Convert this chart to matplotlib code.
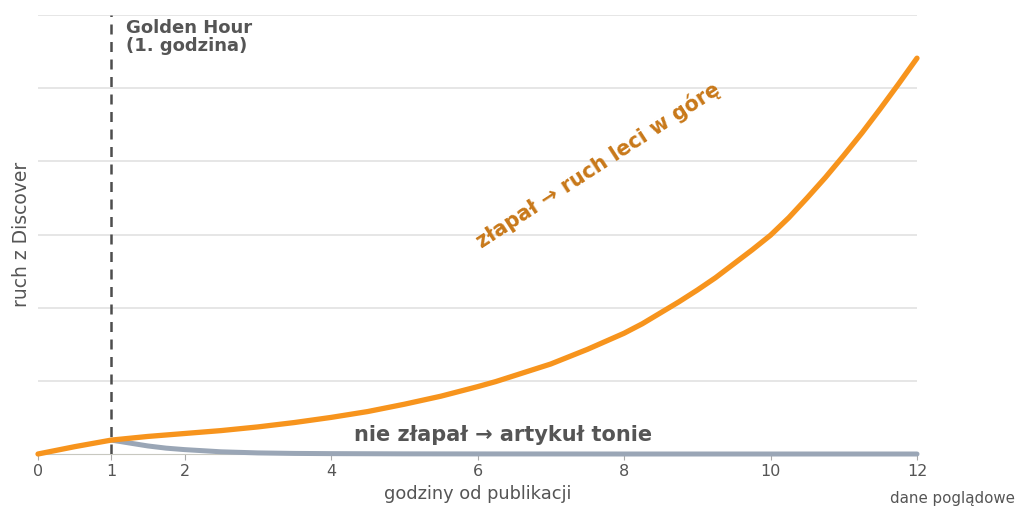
import numpy as np
import matplotlib.pyplot as plt

plt.rcParams['font.family'] = ['DejaVu Sans']

# godziny od publikacji
hours = [0, 0.5, 1, 1.5, 2, 2.5, 3, 3.5, 4, 4.5, 5, 5.5,
         6, 6.25, 6.5, 6.75, 7, 7.25, 7.5, 7.75, 8, 8.25, 8.5, 8.75,
         9, 9.25, 9.5, 9.75, 10, 10.25, 10.5, 10.75, 11, 11.25, 11.5, 11.75, 12]
# artykuł złapał
caught = [0, 0.10, 0.19, 0.24, 0.28, 0.32, 0.37, 0.43, 0.50, 0.58, 0.68, 0.79,
          0.92, 0.99, 1.07, 1.15, 1.23, 1.33, 1.43, 1.54, 1.65, 1.78, 1.93, 2.08,
          2.24, 2.41, 2.60, 2.79, 2.99, 3.23, 3.50, 3.78, 4.08, 4.39, 4.72, 5.06, 5.41]
# artykuł nie złapał (od 1. godziny)
missed_hours = [1, 1.25, 1.5, 1.75, 2, 2.5, 3, 3.5, 4, 5, 6, 8, 10, 12]
missed = [0.19, 0.15, 0.11, 0.08, 0.06, 0.03, 0.015, 0.008, 0.005, 0.002, 0.001, 0, 0, 0]

xticks = [0, 1, 2, 4, 6, 8, 10, 12]

ORANGE = '#f7941d'
ORANGE_TXT = '#c87819'
GRAYLINE = '#9aa6b6'
TXT = '#555555'

fig = plt.figure(figsize=(10.24, 5.17), dpi=100)
ax = fig.add_axes([38/1024, 1-454/517, (917-38)/1024, (454-15)/517])

ax.set_xlim(0, 12)
ax.set_ylim(0, 6)
ax.set_yticks([1, 2, 3, 4, 5, 6])
ax.yaxis.grid(True, color='#e2e2e2', lw=1.2)
ax.set_axisbelow(True)
ax.tick_params(axis='y', length=0, labelleft=False)
ax.set_xticks(xticks)
ax.set_xticklabels([str(t) for t in xticks])
ax.tick_params(axis='x', colors='#aaaaaa', labelcolor=TXT, labelsize=11.5, length=4)
for s in ['top', 'right', 'left']:
    ax.spines[s].set_visible(False)
ax.spines['bottom'].set_color('#c8c8c0')

ax.plot(missed_hours, missed, color=GRAYLINE, lw=3.6, solid_capstyle='round',
        solid_joinstyle='round', zorder=3, clip_on=False)
ax.plot(hours, caught, color=ORANGE, lw=3.8, solid_capstyle='round',
        solid_joinstyle='round', zorder=4, clip_on=False)

ax.axvline(1, color='#4d4d4d', lw=1.8, ls=(0, (4, 3)), zorder=5)

ax.text(1.2, 5.95, 'Golden Hour\n(1. godzina)', fontsize=13, fontweight='bold',
        color=TXT, va='top', ha='left', linespacing=1.0)
ax.text(7.65, 3.95, 'złapał → ruch leci w górę', fontsize=14.8, fontweight='bold',
        color=ORANGE_TXT, rotation=33, ha='center', va='center')
ax.text(6.35, 0.26, 'nie złapał → artykuł tonie', fontsize=15, fontweight='bold',
        color=TXT, ha='center', va='center')

ax.set_xlabel('godziny od publikacji', fontsize=12.8, color=TXT, labelpad=4)
ax.set_ylabel('ruch z Discover', fontsize=13.5, color=TXT, labelpad=5)

fig.text(952/1024, 1-498/517, 'dane poglądowe', fontsize=10.8, color=TXT,
         ha='center', va='center')

fig.savefig('out.png', dpi=100)
